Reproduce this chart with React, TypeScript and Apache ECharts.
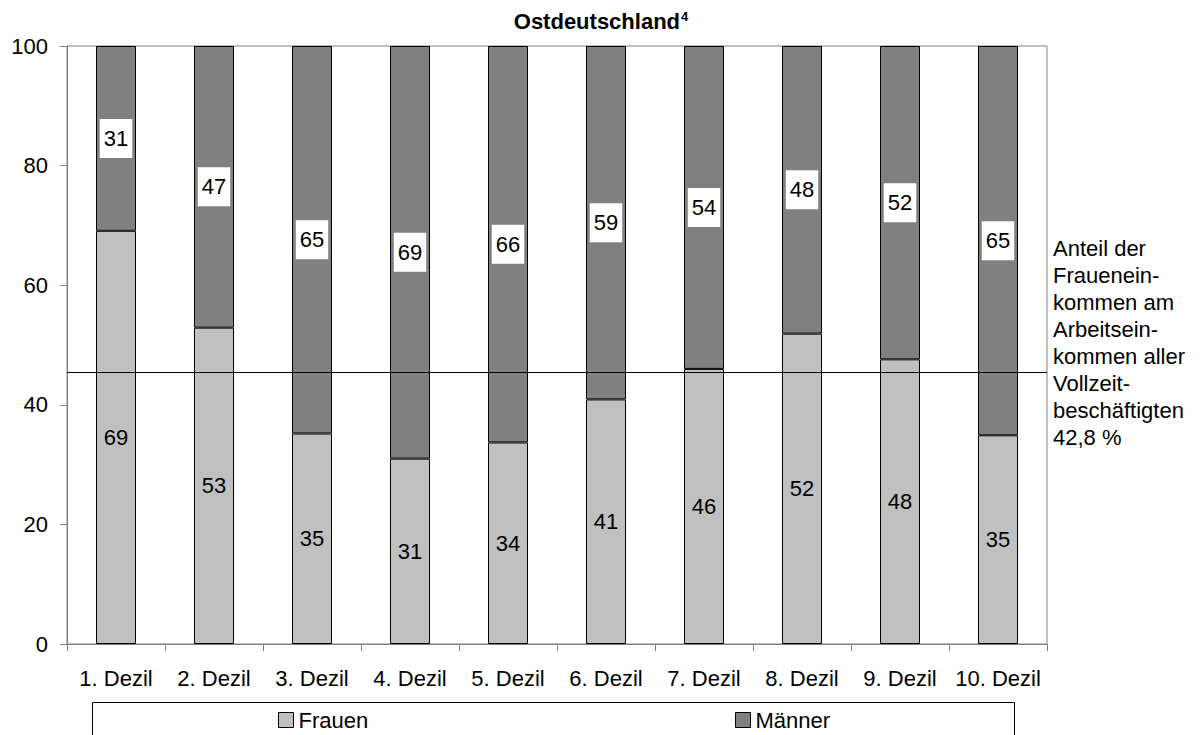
import React, { useEffect, useRef } from "react";
import * as echarts from "echarts";

const categories = ["1. Dezil", "2. Dezil", "3. Dezil", "4. Dezil", "5. Dezil", "6. Dezil", "7. Dezil", "8. Dezil", "9. Dezil", "10. Dezil"];
const frauen = [69.1, 52.9, 35.2, 31.0, 33.7, 40.9, 46.0, 51.9, 47.6, 34.9];
const maenner = [30.9, 47.1, 64.8, 69.0, 66.3, 59.1, 54.0, 48.1, 52.4, 65.1];
const referenceValue = 45.5;
const yTicks = { min: 0, max: 100, interval: 20 };
const noteLines = ["Anteil der", "Frauenein-", "kommen am", "Arbeitsein-", "kommen aller", "Vollzeit-", "beschäftigten", "42,8 %"];
const titleText = "Ostdeutschland";
const titleSup = "4";

const FONT = 'Arial, "Liberation Sans", sans-serif';

export default function App() {
  const ref = useRef<HTMLDivElement>(null);
  useEffect(() => {
    document.body.style.margin = "0";
    const chart = echarts.init(ref.current!, null, { renderer: "svg" });
    const labelFmt = (p: any) => String(Math.round(p.value));
    chart.setOption({
      animation: false,
      backgroundColor: "#fff",
      textStyle: { fontFamily: FONT },
      title: {
        text: `${titleText}{sup|${titleSup}}`,
        left: "center",
        top: 10,
        padding: 0,
        textStyle: {
          fontFamily: FONT,
          fontSize: 22,
          fontWeight: "bold",
          color: "#000",
          lineHeight: 22,
          rich: {
            sup: { fontSize: 13, fontWeight: "bold", verticalAlign: "top", lineHeight: 22, padding: [0, 0, 8, 1], fontFamily: FONT, color: "#000" },
          },
        },
      },
      grid: {
        left: 67,
        right: 155,
        top: 46,
        bottom: 91,
        show: true,
        borderColor: "#808080",
        borderWidth: 1,
        backgroundColor: "transparent",
      },
      legend: [
        {
          data: ["Frauen"],
          left: 278,
          top: 709,
          padding: 0,
          itemWidth: 15,
          itemHeight: 15,
          icon: "rect",
          itemStyle: { borderColor: "#000", borderWidth: 1 },
          textStyle: { fontFamily: FONT, fontSize: 22, color: "#000", lineHeight: 22 },
        },
        {
          data: ["Männer"],
          left: 735,
          top: 709,
          padding: 0,
          itemWidth: 15,
          itemHeight: 15,
          icon: "rect",
          itemStyle: { borderColor: "#000", borderWidth: 1 },
          textStyle: { fontFamily: FONT, fontSize: 22, color: "#000", lineHeight: 22 },
        },
      ],
      xAxis: {
        type: "category",
        data: categories,
        axisLine: { lineStyle: { color: "#808080", width: 1 } },
        axisTick: { show: true, length: 7, lineStyle: { color: "#808080" } },
        axisLabel: { fontFamily: FONT, fontSize: 22, color: "#000", margin: 23, interval: 0 },
        splitLine: { show: false },
      },
      yAxis: {
        type: "value",
        min: yTicks.min,
        max: yTicks.max,
        interval: yTicks.interval,
        axisLine: { show: true, lineStyle: { color: "#808080", width: 1 } },
        axisTick: { show: true, length: 7, lineStyle: { color: "#808080" } },
        axisLabel: { fontFamily: FONT, fontSize: 22, color: "#000", margin: 19 },
        splitLine: { show: false },
      },
      graphic: [
        {
          type: "rect",
          shape: { x: 92.5, y: 702.5, width: 922, height: 60 },
          style: { fill: "none", stroke: "#000", lineWidth: 1 },
          silent: true,
        },
        {
          type: "text",
          x: 1053,
          y: 235,
          style: {
            text: noteLines.join("\n"),
            font: `22px ${FONT}`,
            lineHeight: 27,
            fill: "#000",
          },
          silent: true,
        },
      ],
      series: [
        {
          name: "Frauen",
          type: "bar",
          stack: "total",
          barWidth: 40,
          data: frauen,
          itemStyle: { color: "#c0c0c0", borderColor: "#000", borderWidth: 1 },
          label: { show: true, position: "inside", formatter: labelFmt, fontFamily: FONT, fontSize: 22, color: "#000" },
          markLine: {
            silent: true,
            symbol: "none",
            label: { show: false },
            lineStyle: { color: "#000", width: 1, type: "solid" },
            data: [{ yAxis: referenceValue }],
            z: 10,
          },
        },
        {
          name: "Männer",
          type: "bar",
          stack: "total",
          barWidth: 40,
          data: maenner,
          itemStyle: { color: "#808080", borderColor: "#000", borderWidth: 1 },
          label: {
            show: true,
            position: "inside",
            formatter: labelFmt,
            fontFamily: FONT,
            fontSize: 22,
            color: "#000",
            backgroundColor: "#fff",
            padding: [8, 4, 9, 4],
            lineHeight: 22,
          },
        },
      ],
    });
    return () => chart.dispose();
  }, []);
  return <div ref={ref} style={{ width: 1202, height: 735 }} />;
}
